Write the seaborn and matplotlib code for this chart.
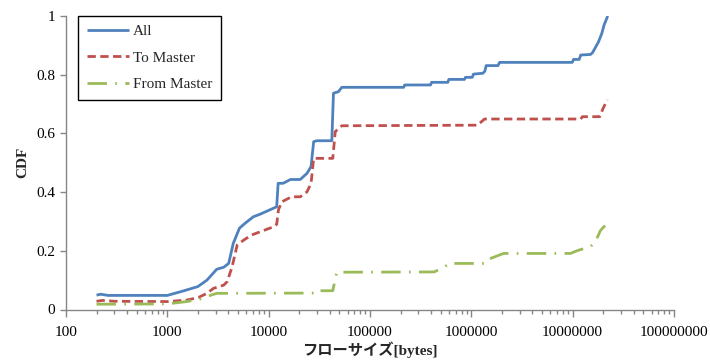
import matplotlib
matplotlib.use("Agg")
import matplotlib.pyplot as plt
import matplotlib.ticker as mticker
import seaborn as sns
import pandas as pd

# ---- data ----
all_x = [200, 220, 260, 1000, 1430, 2000, 2460, 3070, 3600, 4030, 4470, 5150, 5860, 7060, 8270,
         12000, 12400, 13900, 16400, 20500, 23900, 26200, 27800, 30000, 42000, 43600, 48800, 52700,
         215000, 220000, 396000, 405000, 586000, 600000, 857000, 875000, 1020000, 1050000, 1300000,
         1360000, 1400000, 1830000, 1900000, 9900000, 10200000, 11600000, 12000000, 15000000,
         15700000, 16600000, 18000000, 19400000, 20400000, 21700000, 22200000]
all_y = [0.049, 0.052, 0.048, 0.048, 0.063, 0.078, 0.100, 0.137, 0.144, 0.157, 0.225, 0.277, 0.294,
         0.316, 0.325, 0.350, 0.430, 0.430, 0.443, 0.443, 0.464, 0.487, 0.572, 0.575, 0.575, 0.737,
         0.742, 0.757, 0.757, 0.765, 0.765, 0.774, 0.774, 0.784, 0.784, 0.791, 0.791, 0.802, 0.805,
         0.812, 0.831, 0.831, 0.842, 0.842, 0.852, 0.852, 0.867, 0.869, 0.875, 0.890, 0.912, 0.941,
         0.969, 0.992, 1.000]

to_x = [200, 230, 300, 1000, 1550, 2030, 2460, 2850, 3600, 3900, 4360, 4890, 5700, 6800, 8270, 11200,
        12000, 12500, 13500, 16800, 20500, 23900, 26200, 27800, 42900, 45400, 52700, 1150000, 1350000,
        12000000, 12500000, 18500000, 20000000, 22000000]
to_y = [0.028, 0.031, 0.028, 0.027, 0.032, 0.041, 0.055, 0.072, 0.083, 0.095, 0.146, 0.220, 0.237,
        0.254, 0.265, 0.282, 0.290, 0.340, 0.367, 0.384, 0.384, 0.401, 0.430, 0.515, 0.515, 0.606,
        0.626, 0.628, 0.649, 0.649, 0.657, 0.657, 0.686, 0.714]

from_x = [200, 1000, 1550, 2110, 2540, 3070, 30000, 31000, 42900, 47000, 430000, 550000, 600000,
          1370000, 1470000, 2080000, 9500000, 11000000, 13000000, 15000000, 16700000, 18000000,
          18700000, 20300000, 21000000]
from_y = [0.018, 0.019, 0.027, 0.036, 0.046, 0.055, 0.056, 0.064, 0.064, 0.127, 0.128, 0.146, 0.157,
          0.157, 0.171, 0.191, 0.191, 0.200, 0.208, 0.214, 0.231, 0.254, 0.268, 0.282, 0.285]

series_names = ["All", "To Master", "From Master"]
colors = ["#4F81BD", "#C0504D", "#9BBB59"]
y_ticks = [0, 0.2, 0.4, 0.6, 0.8, 1.0]
y_tick_labels = ["0", "0.2", "0.4", "0.6", "0.8", "1"]
x_ticks = [1e2, 1e3, 1e4, 1e5, 1e6, 1e7, 1e8]
x_tick_labels = ["100", "1000", "10000", "100000", "1000000", "10000000", "100000000"]

sns.set_theme(style="ticks")
plt.rcParams["font.family"] = ["Liberation Serif", "Noto Sans CJK JP"]

fig = plt.figure(figsize=(7.1, 3.62), dpi=100)
ax = fig.add_axes([66 / 710, 1 - 309.5 / 362, 608 / 710, 293.5 / 362])

lw = 2.0
styles = [dict(linestyle="-"), dict(dashes=(3, 1.6)), dict(dashes=(7, 3, 0.6, 3))]
for (xs, ys), name, c, st in zip([(all_x, all_y), (to_x, to_y), (from_x, from_y)],
                                 series_names, colors, styles):
    df = pd.DataFrame({"x": xs, "y": ys})
    sns.lineplot(data=df, x="x", y="y", ax=ax, estimator=None, sort=False,
                 color=c, linewidth=lw, label=name)
    l = ax.get_lines()[-1]
    if "dashes" in st:
        l.set_dashes(st["dashes"])
    l.set_solid_capstyle("butt")
    l.set_dash_capstyle("butt")

ax.set_xscale("log")
ax.set_xlim(1e2, 1e8)
ax.set_ylim(0, 1)
ax.set_xticks(x_ticks)
ax.set_xticklabels(x_tick_labels)
ax.xaxis.set_minor_locator(mticker.LogLocator(base=10, subs=range(2, 10)))
ax.xaxis.set_minor_formatter(mticker.NullFormatter())
ax.set_yticks(y_ticks)
ax.set_yticklabels(y_tick_labels)

grey = "#868686"
for s in ["top", "right"]:
    ax.spines[s].set_visible(False)
for s in ["left", "bottom"]:
    ax.spines[s].set_color(grey)
    ax.spines[s].set_linewidth(1.0)
ax.tick_params(axis="both", which="major", direction="out", color=grey, length=5, width=1,
               labelsize=11, labelcolor="black", pad=4)
ax.tick_params(axis="x", which="minor", direction="out", color=grey, length=3, width=1)
ax.tick_params(axis="y", which="major", length=4)
ax.tick_params(axis="x", which="major", pad=7)

ax.set_ylabel("CDF", fontsize=11, fontweight="bold", labelpad=5)
ax.set_xlabel("フローサイズ[bytes]", fontsize=11, fontweight="bold", labelpad=2)

leg = ax.legend(loc="upper left", bbox_to_anchor=(0.02, 1.0), borderaxespad=0,
                frameon=True, fancybox=False, edgecolor="black", fontsize=11,
                handlelength=2.8, handletextpad=0.25, labelspacing=0.85,
                borderpad=0.55)
leg.get_frame().set_linewidth(1.0)
leg.get_frame().set_alpha(1)

fig.savefig("out.png", dpi=100)
